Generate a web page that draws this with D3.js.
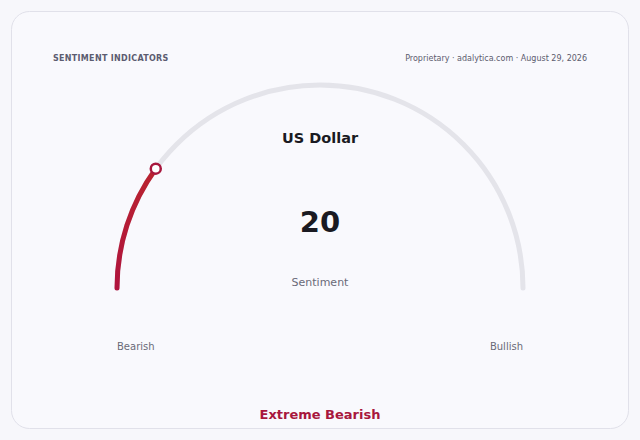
<!DOCTYPE html>
<html>
<head>
<meta charset="utf-8">
<script src="https://cdn.jsdelivr.net/npm/d3@7"></script>
<style>
  html, body { margin: 0; padding: 0; background: #f7f7fb; }
  svg { display: block; font-family: "DejaVu Sans", sans-serif; }
</style>
</head>
<body>
<svg id="chart"></svg>
<script>
// data
const title = 'US Dollar';
const value = 20;
const domain = [0, 100];
const endLabels = ['Bearish', 'Bullish'];
const valueLabel = 'Sentiment';
const status = 'Extreme Bearish';
const header = 'SENTIMENT INDICATORS';
const source = 'Proprietary · adalytica.com · August 29, 2026';

const width = 640, height = 440;
const cx = 320, cy = 288, radius = 203;
const accent = '#a8173d';

const svg = d3.select('#chart')
    .attr('width', width)
    .attr('height', height);

// card
svg.append('rect')
    .attr('x', 11.5).attr('y', 11.5)
    .attr('width', 617).attr('height', 417)
    .attr('rx', 18)
    .attr('fill', '#f9f9fd')
    .attr('stroke', '#e1e1ea')
    .attr('stroke-width', 1);

svg.append('text')
    .attr('x', 53).attr('y', 61)
    .attr('font-size', 8).attr('font-weight', 'bold')
    .attr('letter-spacing', 0.3)
    .attr('fill', '#5c5c70')
    .text(header);

svg.append('text')
    .attr('x', 587).attr('y', 61)
    .attr('text-anchor', 'end')
    .attr('font-size', 8)
    .attr('fill', '#5c5c6e')
    .text(source);

// angle scale: 0 -> left (pi), 100 -> right (0), canvas angles
const angle = d3.scaleLinear()
    .domain(domain)
    .range([Math.PI, 2 * Math.PI]);

const g = svg.append('g')
    .attr('transform', `translate(${cx},${cy})`);

// open arc path so the line caps show at the ends
function arcPath(v0, v1) {
    const p = d3.path();
    const a0 = angle(v0), a1 = angle(v1);
    p.moveTo(radius * Math.cos(a0), radius * Math.sin(a0));
    p.arc(0, 0, radius, a0, a1, false);
    return p.toString();
}

// track
g.append('path')
    .attr('d', arcPath(domain[0], domain[1]))
    .attr('fill', 'none')
    .attr('stroke', '#e4e4ea')
    .attr('stroke-width', 5)
    .attr('stroke-linecap', 'round');

// value arc
const grad = svg.append('defs').append('linearGradient')
    .attr('id', 'valGrad')
    .attr('x1', '0').attr('y1', '1').attr('x2', '0').attr('y2', '0');
grad.append('stop').attr('offset', '0%').attr('stop-color', '#b0143e');
grad.append('stop').attr('offset', '100%').attr('stop-color', '#b9232f');

g.append('path')
    .attr('d', arcPath(domain[0], value))
    .attr('fill', 'none')
    .attr('stroke', 'url(#valGrad)')
    .attr('stroke-width', 5)
    .attr('stroke-linecap', 'round');

// knob
const a = angle(value);
g.append('circle')
    .attr('cx', radius * Math.cos(a))
    .attr('cy', radius * Math.sin(a))
    .attr('r', 5)
    .attr('fill', '#ffffff')
    .attr('stroke', accent)
    .attr('stroke-width', 2.5);

// center texts
svg.append('text')
    .attr('x', cx).attr('y', 143)
    .attr('text-anchor', 'middle')
    .attr('font-size', 14.5).attr('font-weight', 'bold')
    .attr('fill', '#1a1a22')
    .text(title);

svg.append('text')
    .attr('x', cx).attr('y', 232)
    .attr('text-anchor', 'middle')
    .attr('font-size', 29).attr('font-weight', 'bold')
    .attr('fill', '#1a1a22')
    .text(value);

svg.append('text')
    .attr('x', cx).attr('y', 286)
    .attr('text-anchor', 'middle')
    .attr('font-size', 11)
    .attr('fill', '#6a6a78')
    .text(valueLabel);

// end labels
svg.append('text')
    .attr('x', cx - radius).attr('y', 350)
    .attr('font-size', 10)
    .attr('fill', '#6a6a78')
    .text(endLabels[0]);

svg.append('text')
    .attr('x', cx + radius).attr('y', 350)
    .attr('text-anchor', 'end')
    .attr('font-size', 10)
    .attr('fill', '#6a6a78')
    .text(endLabels[1]);

svg.append('text')
    .attr('x', cx).attr('y', 419)
    .attr('text-anchor', 'middle')
    .attr('font-size', 13).attr('font-weight', 'bold')
    .attr('fill', accent)
    .text(status);
</script>
</body>
</html>
